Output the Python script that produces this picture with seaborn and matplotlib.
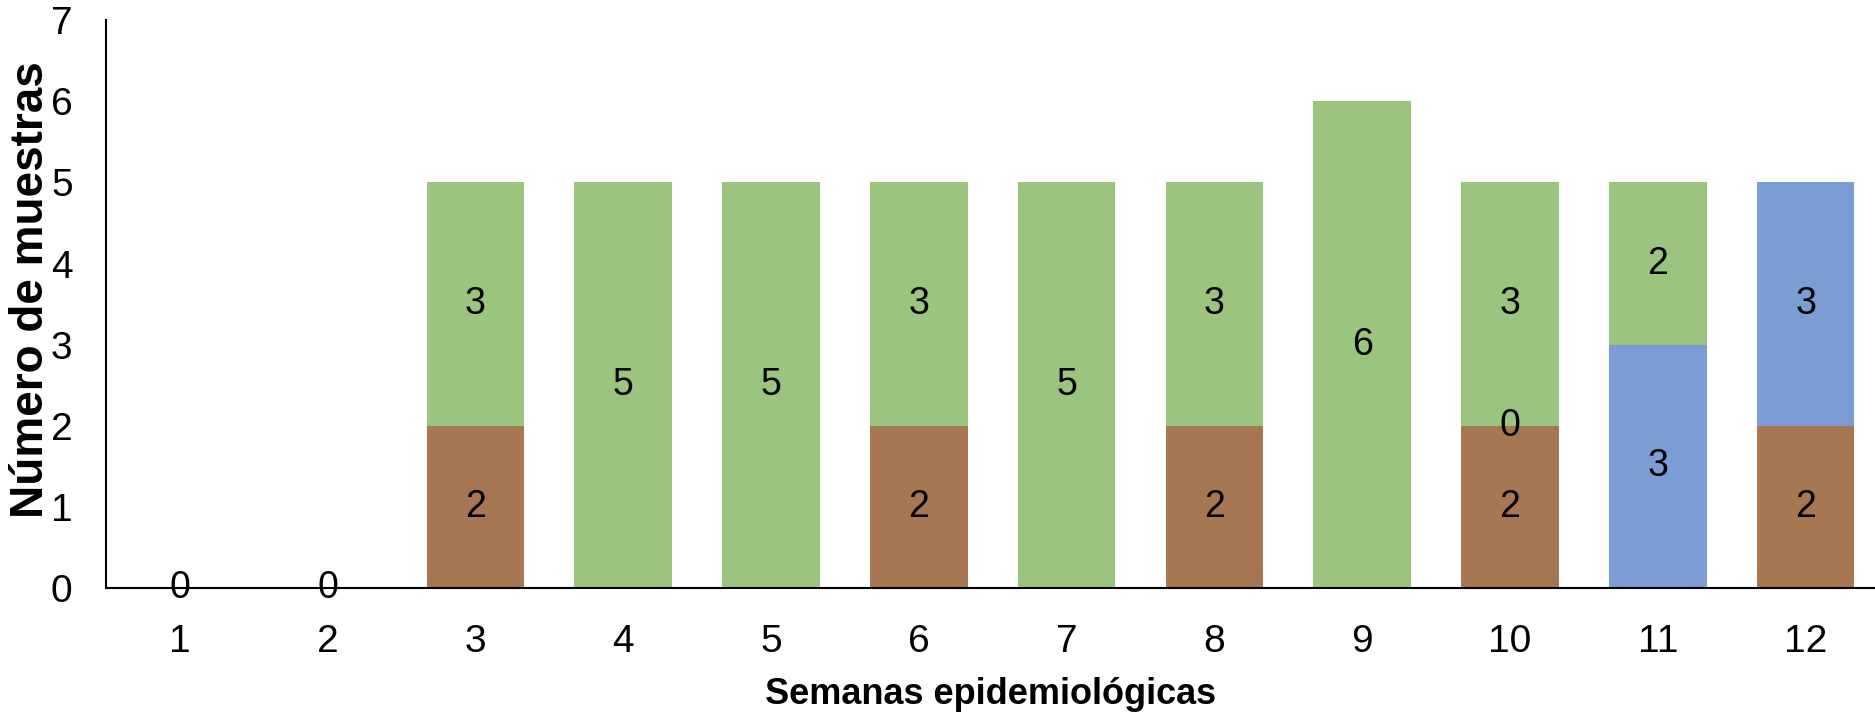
"""Stacked bar chart of samples per epidemiological week."""

import matplotlib
matplotlib.use("Agg")
import matplotlib.pyplot as plt
import numpy as np
import pandas as pd
import seaborn as sns

WEEKS = ["1", "2", "3", "4", "5", "6", "7", "8", "9", "10", "11", "12"]
# NaN = empty cell (no label drawn), 0 = explicit zero (label drawn)
BROWN = [0, 0, 2, np.nan, np.nan, 2, np.nan, 2, np.nan, 2, np.nan, 2]
BLUE = [np.nan, np.nan, np.nan, np.nan, np.nan, np.nan, np.nan, np.nan, np.nan, 0, 3, 3]
GREEN = [np.nan, np.nan, 3, 5, 5, 3, 5, 3, 6, 3, 2, np.nan]

COLORS = {"brown": "#A67752", "blue": "#7B9CD4", "green": "#9BC47F"}

sns.set_theme(style="white")
plt.rcParams["font.family"] = ["Liberation Sans", "DejaVu Sans"]

data = pd.DataFrame({"week": WEEKS, "brown": BROWN, "blue": BLUE, "green": GREEN})
filled = data[["brown", "blue", "green"]].fillna(0)
data["cum_brown"] = filled["brown"]
data["cum_blue"] = filled["brown"] + filled["blue"]
data["cum_green"] = filled["brown"] + filled["blue"] + filled["green"]

fig = plt.figure(figsize=(18.75, 7.19), dpi=100)
ax = fig.add_axes([0.0565, 0.182, 0.9435, 0.79])

# draw cumulative totals from top segment down so each layer covers the one below
for series in ["green", "blue", "brown"]:
    sns.barplot(data=data, x="week", y=f"cum_{series}", order=WEEKS,
                color=COLORS[series], saturation=1, width=0.66,
                linewidth=0, edgecolor="none", ax=ax)

for i, row in data.iterrows():
    base = 0.0
    for series in ["brown", "blue", "green"]:
        value = row[series]
        if not np.isnan(value):
            ax.text(i, base + value / 2, f"{value:.0f}", ha="center", va="center",
                    fontsize=27, color="black")
            base += value

ax.set_ylim(0, 7)
ax.set_xlim(-0.5, 11.47)
ax.set_yticks(range(0, 8))
ax.tick_params(axis="both", length=0, labelsize=28, colors="black")
ax.tick_params(axis="y", pad=24)
ax.tick_params(axis="x", pad=26)
for side in ["top", "right"]:
    ax.spines[side].set_visible(False)
for side in ["left", "bottom"]:
    ax.spines[side].set_color("black")
    ax.spines[side].set_linewidth(1.5)

ax.set_xlabel("Semanas epidemiológicas", fontsize=26, fontweight="bold",
              color="black", labelpad=12)
ax.set_ylabel("Número de muestras", fontsize=33, fontweight="bold", color="black")
ax.yaxis.set_label_coords(-0.03, 0.525)

fig.savefig("out.png", dpi=100)
